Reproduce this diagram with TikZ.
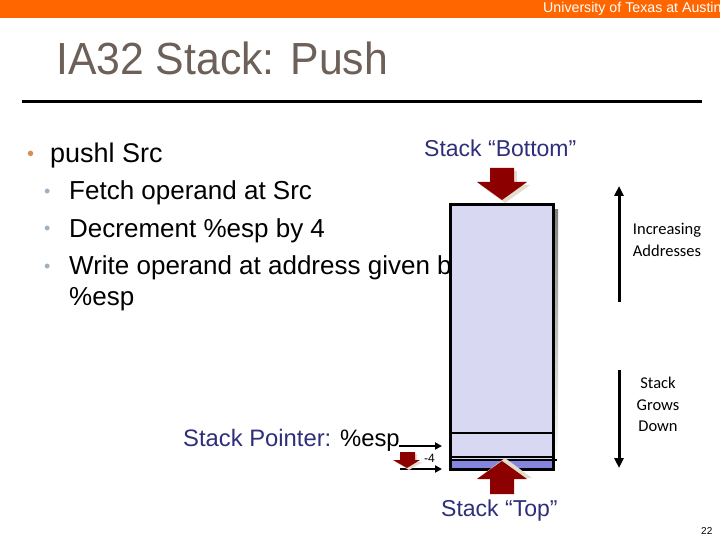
\documentclass[tikz,border=0pt]{standalone}
\usepackage{fontspec}
\setmainfont{Liberation Sans}
\newfontfamily\calib{Carlito}
\newfontfamily\narrowsans[FakeStretch=0.95]{Liberation Sans}
\usetikzlibrary{arrows.meta}
\definecolor{utorange}{RGB}{255,102,0}
\definecolor{titlegray}{RGB}{108,96,88}
\definecolor{dblue}{RGB}{46,46,122}
\definecolor{boxfill}{RGB}{216,216,243}
\definecolor{boxdark}{RGB}{133,133,222}
\definecolor{dred}{RGB}{140,0,0}
\definecolor{shade}{RGB}{228,220,204}
\definecolor{bulorange}{RGB}{214,140,90}
\definecolor{bulgray}{RGB}{160,176,192}
\tikzset{
  txt/.style={inner sep=0pt, anchor=base west},
  redarrow/.style={fill=dred, draw=none},
  arrshadow/.style={fill=shade, draw=none},
  esparrow/.style={line width=2.2pt, -{Triangle[length=7pt,width=7pt]}},
  sidelabel/.style={inner sep=0pt, align=center, font=\calib\fontsize{16.5}{21.5}\selectfont}
}
\begin{document}
\begin{tikzpicture}[x=1pt,y=-1pt]
\useasboundingbox (0,0) rectangle (720,540);
\clip (0,0) rectangle (720,540);
% header
\fill[utorange] (0,0) rectangle (720,18);
\node[txt, text=white, font=\fontsize{14.2}{16}\selectfont] (uni) at (543,13) {University of Texas at Austin};
% title
\node[txt, text=titlegray, font=\narrowsans\fontsize{45}{50}\selectfont] (title) at (56,75) {IA32 Stack: Push};
\draw[line width=3pt] (22,101.5) -- (702,101.5);
% bullets
\node[txt, text=bulorange, font=\fontsize{20}{26}\selectfont] (b0) at (27,161) {•};
\node[txt, font=\fontsize{27}{32}\selectfont] (pushl) at (50,163) {pushl Src};
\node[txt, text=bulgray, font=\fontsize{18}{24}\selectfont] (b1) at (44,198) {•};
\node[txt, font=\fontsize{26}{31}\selectfont] (l1) at (69,200) {Fetch operand at Src};
\node[txt, text=bulgray, font=\fontsize{18}{24}\selectfont] (b2) at (44,235) {•};
\node[txt, font=\fontsize{26}{31}\selectfont] (l2) at (69,237) {Decrement \%esp by 4};
\node[txt, text=bulgray, font=\fontsize{18}{24}\selectfont] (b3) at (44,272) {•};
\node[txt, font=\fontsize{26}{31}\selectfont] (l3) at (69,274) {Write operand at address given by};
\node[txt, font=\fontsize{26}{31}\selectfont] (l4) at (69,305) {\%esp};
% Stack Bottom label
\node[txt, text=dblue, font=\fontsize{23}{27}\selectfont] (bottom) at (424,157) {Stack “Bottom”};
% stack box with shadow
\fill[shade] (455,210) rectangle (558,462);
\fill[boxfill] (450,205) rectangle (553,469);
\fill[boxdark] (450,461) rectangle (553,469);
\draw[shade, line width=1.5pt] (452,460) -- (557,460);
\draw[line width=1.5pt] (450,433) -- (553,433);
\draw[line width=1.5pt] (450,457) -- (553,457);
\draw[line width=3pt] (450,205) rectangle (553,469);
% top red arrow (pointing down)
\fill[arrshadow] (493,171) -- (517,171) -- (517,185) -- (530,185) -- (505,203) -- (480,185) -- (493,185) -- cycle;
\fill[redarrow] (490,168) -- (514,168) -- (514,182) -- (527,182) -- (502,200) -- (477,182) -- (490,182) -- cycle;
% bottom red arrow (pointing up)
\fill[arrshadow] (505,458) -- (532,478) -- (478,478) -- cycle;
\fill[redarrow] (502,461) -- (527,479) -- (514,479) -- (514,494) -- (490,494) -- (490,479) -- (477,479) -- cycle;
\node[txt, text=dblue, font=\fontsize{23}{27}\selectfont] (top) at (441,516) {Stack “Top”};
% stack pointer
\node[txt, font=\fontsize{23.8}{27}\selectfont] (sp) at (183,446) {\textcolor{dblue}{Stack Pointer:} \%esp};
\coordinate (espA) at (399,446);
\coordinate (espAend) at (442,446);
\coordinate (espB) at (400,469);
\coordinate (espBend) at (442,469);
\draw[esparrow] (espA) -- (espAend);
\draw[esparrow] (espB) -- (espBend);
\fill[arrshadow] (402,454) -- (417,454) -- (417,462) -- (423,462) -- (409,470) -- (395,462) -- (402,462) -- cycle;
\fill[redarrow] (400,452) -- (415,452) -- (415,460) -- (420,460) -- (407,468) -- (393,460) -- (400,460) -- cycle;
\node[txt, font=\fontsize{12}{14}\selectfont] (minus4) at (424,462) {-4};
% right axis arrows
\coordinate (incTop) at (619,186);
\coordinate (incBot) at (619,302);
\draw[line width=3pt, -{Triangle[length=10pt,width=9pt]}] (incBot) -- (incTop);
\node[sidelabel, anchor=north] (inc) at (667,223) {Increasing\\Addresses};
\coordinate (grTop) at (619,370);
\coordinate (grBot) at (619,468);
\draw[line width=3pt, -{Triangle[length=10pt,width=9pt]}] (grTop) -- (grBot);
\node[sidelabel, anchor=north] (grow) at (658,377) {Stack\\Grows\\Down};
% page number
\node[txt, font=\fontsize{10}{12}\selectfont] (page) at (701,534) {22};
\end{tikzpicture}
\end{document}
